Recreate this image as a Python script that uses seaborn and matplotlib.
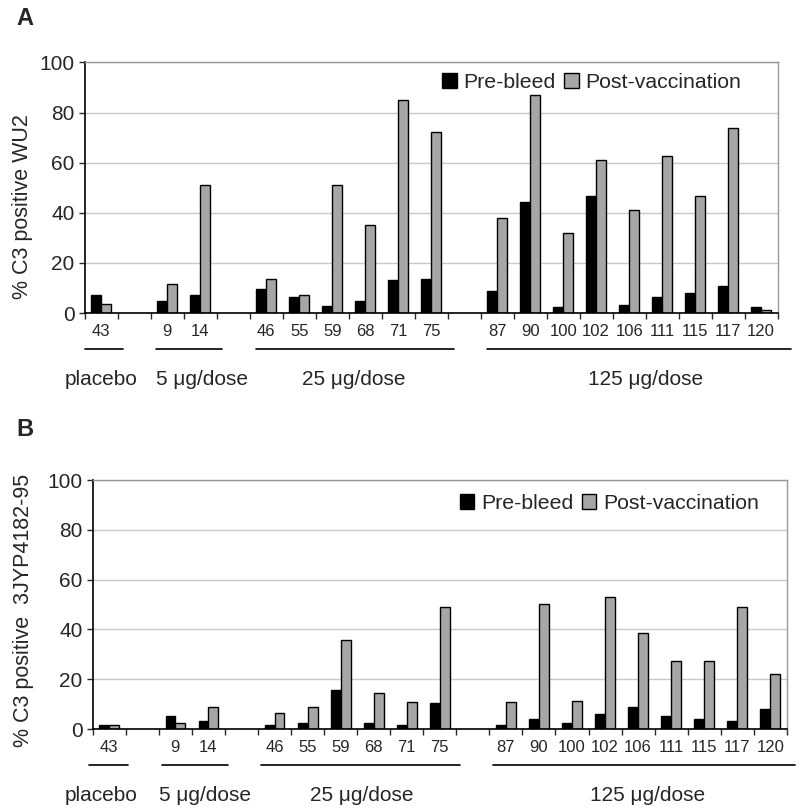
import matplotlib
matplotlib.use("Agg")
import matplotlib.pyplot as plt
import matplotlib.transforms as mtransforms
import numpy as np
import pandas as pd
import seaborn as sns

# animal ids (blank slots separate the dose groups)
animals = ["43", "_a", "9", "14", "_b", "46", "55", "59", "68", "71", "75", "_c",
           "87", "90", "100", "102", "106", "111", "115", "117", "120"]
real_ids = [a for a in animals if not a.startswith("_")]

# panel A: % C3 positive WU2
wu2_pre = [7.3, 5.0, 7.4, 9.4, 6.6, 3.0, 5.0, 13.0, 13.7,
           8.6, 44.2, 2.5, 46.9, 3.2, 6.6, 8.0, 10.8, 2.5]
wu2_post = [3.8, 11.4, 51.1, 13.5, 7.3, 51.1, 35.1, 85.0, 72.4,
            37.8, 87.0, 32.1, 61.1, 41.2, 62.7, 46.7, 73.8, 1.1]

# panel B: % C3 positive 3JYP4182-95
jyp_pre = [1.6, 5.2, 3.1, 1.6, 2.5, 15.8, 2.5, 1.6, 10.3,
           1.6, 3.9, 2.5, 6.0, 8.8, 5.2, 3.9, 3.1, 8.0]
jyp_post = [1.6, 2.4, 8.7, 6.6, 8.7, 35.7, 14.3, 10.7, 49.0,
            10.7, 50.3, 11.2, 53.1, 38.7, 27.3, 27.3, 49.0, 22.0]

groups = ["placebo", "5 \u03bcg/dose", "25 \u03bcg/dose", "125 \u03bcg/dose"]
# underline extent (in category units) and label centre for each group
lines_a = [(-0.5, 0.65), (1.65, 3.65), (4.68, 10.7), (11.68, 20.9)]
text_a = [0.0, 3.05, 7.65, 16.5]
lines_b = [(-0.6, 0.55), (1.6, 3.6), (4.6, 10.6), (11.6, 20.75)]
text_b = [-0.25, 2.9, 7.65, 16.3]

sns.set_style("white")
plt.rcParams["font.family"] = ["Liberation Sans", "DejaVu Sans"]

fig = plt.figure(figsize=(8, 8.11), dpi=100)


def make_df(pre, post):
    return pd.DataFrame({
        "animal": real_ids * 2,
        "value": pre + post,
        "bleed": ["Pre-bleed"] * len(pre) + ["Post-vaccination"] * len(post),
    })


def draw_panel(rect, pre, post, ylabel, ylab_xy, leg_anchor, lines, text_x,
               letter, letter_y):
    ax = fig.add_axes(rect)
    df = make_df(pre, post)
    sns.barplot(data=df, x="animal", y="value", hue="bleed", order=animals,
                hue_order=["Pre-bleed", "Post-vaccination"],
                palette=["#000000", "#a6a6a6"], width=0.6, gap=0,
                edgecolor="black", linewidth=1, ax=ax)
    ax.set_xlim(-0.5, len(animals) - 0.5)
    ax.set_ylim(0, 100)
    ax.set_yticks(range(0, 101, 20))
    ax.tick_params(axis="y", labelsize=15, length=4, width=1, direction="out", left=True)
    ax.yaxis.grid(True, color="#c8c8c8", linewidth=1)
    ax.set_axisbelow(True)
    # labels centred, tick marks between categories
    ax.set_xticks(range(len(animals)))
    ax.set_xticklabels(["" if a.startswith("_") else a for a in animals], fontsize=12)
    ax.tick_params(axis="x", length=0, pad=8)
    ax.set_xticks(np.arange(-0.5, len(animals), 1), minor=True)
    ax.tick_params(axis="x", which="minor", length=4, width=1, direction="out", bottom=True)
    for side in ["top", "right"]:
        ax.spines[side].set_color("#999999")
        ax.spines[side].set_linewidth(1)
    for side in ["left", "bottom"]:
        ax.spines[side].set_color("black")
        ax.spines[side].set_linewidth(1.2)
    ax.set_xlabel("")
    ax.set_ylabel(ylabel, fontsize=15.5)
    ax.yaxis.set_label_coords(*ylab_xy)
    leg = ax.legend(loc="upper right", ncol=2, frameon=False, fontsize=15.3,
                    handlelength=0.7, handleheight=0.7, handletextpad=0.3,
                    columnspacing=0.4, bbox_to_anchor=leg_anchor)
    for h in leg.legend_handles:
        h.set_edgecolor("black")
        h.set_linewidth(1)

    # group underlines and names below the axis
    trans = mtransforms.blended_transform_factory(ax.transData, ax.transAxes)
    for name, (x0, x1), tx in zip(groups, lines, text_x):
        ax.plot([x0, x1], [-0.145, -0.145], color="black", lw=1.2,
                transform=trans, clip_on=False)
        ax.text(tx, -0.265, name, transform=trans, ha="center", va="center",
                fontsize=15)
    fig.text(0.021, letter_y, letter, fontsize=17, fontweight="bold", va="center")
    return ax


draw_panel([0.106, 0.614, 0.866, 0.309], wu2_pre, wu2_post,
           "% C3 positive WU2", (-0.075, 0.425), (0.975, 1.035),
           lines_a, text_a, "A", 0.977)
draw_panel([0.116, 0.101, 0.8675, 0.307], jyp_pre, jyp_post,
           "% C3 positive  3JYP4182-95", (-0.085, 0.475), (0.987, 1.022),
           lines_b, text_b, "B", 0.471)

fig.savefig("out.png", dpi=100, facecolor="white")
